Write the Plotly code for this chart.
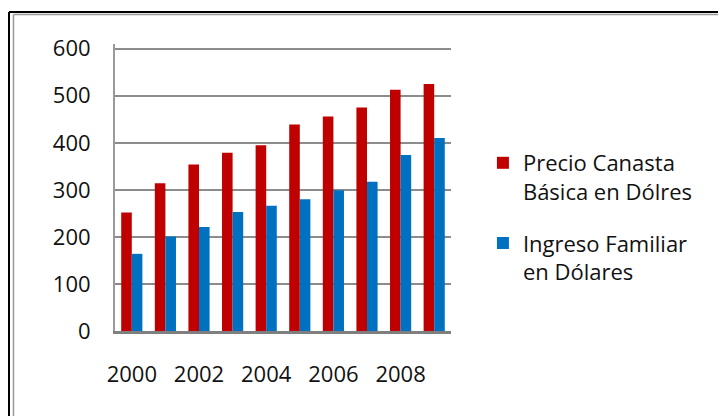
import plotly.graph_objects as go

# Yearly values
years = ["2000", "2001", "2002", "2003", "2004", "2005", "2006", "2007", "2008", "2009"]
canasta = [252, 314, 354, 379, 395, 439, 456, 475, 513, 525]
ingreso = [164, 201, 221, 253, 266, 280, 299, 317, 374, 410]
tick_years = ["2000", "2002", "2004", "2006", "2008"]
y_ticks = [0, 100, 200, 300, 400, 500, 600]

W, H = 718, 416
L, R, T, B = 115, 451, 44, 331  # plot area edges in pixels

def px_x(x):
    return (x - L) / (R - L)

def px_y(y):
    return (B - y) / (B - T)

FONT = "Open Sans"

fig = go.Figure()
fig.add_trace(go.Bar(
    x=years, y=canasta, name="Precio Canasta<br>Básica en Dólres",
    marker=dict(color="#C00000", line=dict(width=0)), legendgroup="a",
))
fig.add_trace(go.Bar(
    x=years, y=ingreso, name="Ingreso Familiar<br>en Dólares",
    marker=dict(color="#0070C0", line=dict(width=0)), legendgroup="b",
))

# outer frame (top and left edges, double line)
shapes = [
    dict(type="line", xref="paper", yref="paper", x0=px_x(9), x1=px_x(9),
         y0=px_y(12), y1=px_y(416), line=dict(color="black", width=2)),
    dict(type="line", xref="paper", yref="paper", x0=px_x(9), x1=px_x(718),
         y0=px_y(12), y1=px_y(12), line=dict(color="black", width=2)),
    dict(type="line", xref="paper", yref="paper", x0=px_x(13.5), x1=px_x(13.5),
         y0=px_y(14.5), y1=px_y(416), line=dict(color="#9a9a9a", width=1.5)),
    dict(type="line", xref="paper", yref="paper", x0=px_x(13.5), x1=px_x(718),
         y0=px_y(14.5), y1=px_y(14.5), line=dict(color="#9a9a9a", width=1.5)),
]

fig.update_layout(
    width=W, height=H,
    margin=dict(l=L, r=W - R, t=T, b=H - B, pad=0),
    paper_bgcolor="white", plot_bgcolor="white",
    barmode="group", bargap=0.37, bargroupgap=0,
    font=dict(family=FONT, size=22, color="#111111"),
    showlegend=True,
    legend=dict(
        x=1.095, xanchor="left", y=px_y(142), yanchor="top",
        valign="top", tracegroupgap=20, traceorder="grouped",
        font=dict(family=FONT, size=22, color="#111111"),
        itemwidth=30, bgcolor="rgba(0,0,0,0)",
    ),
    xaxis=dict(
        type="category", tickmode="array", tickvals=tick_years, ticktext=tick_years,
        showgrid=False, showline=True, linecolor="#7f7f7f", linewidth=3,
        ticks="", ticklabelstandoff=22, tickfont=dict(size=22),
    ),
    yaxis=dict(
        range=[0, 610], tickmode="array", tickvals=y_ticks,
        showgrid=True, gridcolor="#8c8c8c", gridwidth=2,
        showline=True, linecolor="#9a9a9a", linewidth=2,
        zeroline=False, ticks="", ticklabelstandoff=18, tickfont=dict(size=22),
    ),
    shapes=shapes,
)

fig.write_html("out.html")
